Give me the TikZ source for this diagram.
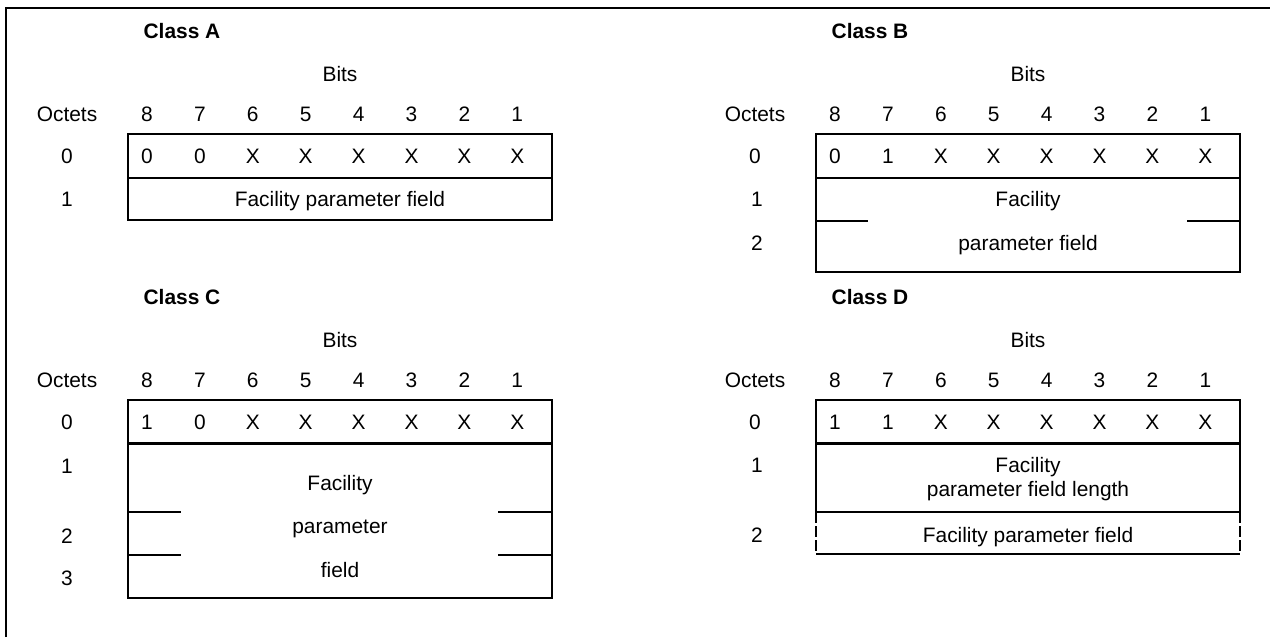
\documentclass[tikz,border=0pt]{standalone}
\usepackage{fontspec}
\setmainfont{Liberation Sans}
\newcommand{\txt}{\fontsize{11.9}{13.7}\selectfont}

\begin{document}
\begin{tikzpicture}[x=0.02cm,y=-0.02cm,line width=1.1pt,
  every node/.style={font=\txt,inner sep=0pt,anchor=base},
  title/.style={font=\txt\bfseries},
  cut/.style={dash pattern=on 6pt off 2pt}]
  \useasboundingbox (0,0) rectangle (1270,637);
  \draw[line width=1.4pt] (6,637) -- (6,8) -- (1270,8);
  % headings and octet 0 of the four classes
  \foreach \cl/\dx/\dy/\ba/\bb in {A/0/0/0/0,B/688/0/0/1,C/0/266/1/0,D/688/266/1/1}{
    \node[title] (title\cl) at (182+\dx,38.5+\dy) {Class \cl};
    \node (bits\cl) at (340+\dx,81+\dy) {Bits};
    \node (octets\cl) at (67+\dx,121.5+\dy) {Octets};
    \foreach \b in {1,...,8}
      \node (b\cl\b) at ({147+52.9*(8-\b)+\dx},121.5+\dy) {\b};
    \draw (128+\dx,134+\dy) rectangle (552+\dx,178+\dy);
    \node (o\cl0) at (67+\dx,163.5+\dy) {0};
    \node (v\cl8) at (147+\dx,163.5+\dy) {\ba};
    \node (v\cl7) at (199.9+\dx,163.5+\dy) {\bb};
    \foreach \k in {2,...,7}
      \node (x\cl\k) at ({147+52.9*\k+\dx},163.5+\dy) {X};
  }
  % class A
  \draw (128,178) rectangle (552,220);
  \node (oA1) at (67,206.5) {1};
  \node (fieldA) at (340,206.5) {Facility parameter field};
  % class B
  \draw (816,178) rectangle (1240,272);
  \draw (816,221) -- (868,221) (1187,221) -- (1240,221);
  \node (oB1) at (757,206.5) {1};
  \node (oB2) at (757,250) {2};
  \node (fieldB1) at (1028,206.5) {Facility};
  \node (fieldB2) at (1028,250) {parameter field};
  % class C
  \draw (128,443) rectangle (552,598);
  \draw (128,512) -- (181,512) (498,512) -- (552,512);
  \draw (128,555) -- (181,555) (498,555) -- (552,555);
  \node (oC1) at (67,473) {1};
  \node (oC2) at (67,543) {2};
  \node (oC3) at (67,585) {3};
  \node (fieldC1) at (340,490) {Facility};
  \node (fieldC2) at (340,533) {parameter};
  \node (fieldC3) at (340,577) {field};
  % class D
  \draw (816,443) rectangle (1240,512);
  \draw (816,554) -- (1240,554);
  \draw[cut] (816,512) -- (816,554) (1240,512) -- (1240,554);
  \node (oD1) at (757,472.5) {1};
  \node (oD2) at (757,542) {2};
  \node[anchor=center,align=center] (lengthD) at (1028,479) {Facility\\parameter field length};
  \node (fieldD) at (1028,542) {Facility parameter field};
\end{tikzpicture}
\end{document}
